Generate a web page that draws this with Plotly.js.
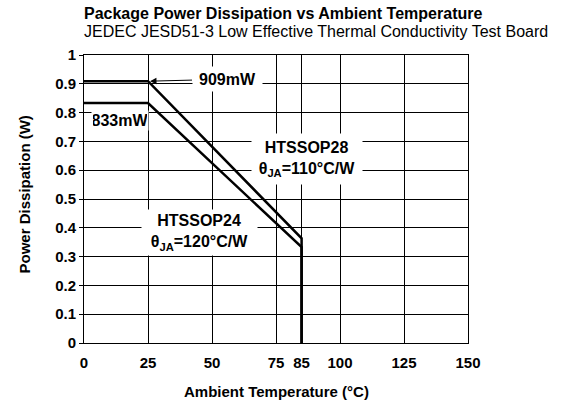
<!DOCTYPE html>
<html>
<head>
<meta charset="utf-8">
<script src="https://cdn.plot.ly/plotly-3.0.1.min.js"></script>
<style>html,body{margin:0;padding:0;background:#fff;}#chart{width:564px;height:403px;}</style>
</head>
<body>
<div id="chart"></div>
<script>
// Data
const temps28 = [0, 25, 85, 85];
const power28 = [0.909, 0.909, 0.3636, 0];
const temps24 = [0, 25, 85, 85];
const power24 = [0.833, 0.833, 0.333, 0];
const xTickVals = [0, 25, 50, 75, 85, 100, 125, 150];
const xTickText = ['0', '25', '50', '75', '85', '100', '125', '150'];
const yTickVals = [0, 0.1, 0.2, 0.3, 0.4, 0.5, 0.6, 0.7, 0.8, 0.9, 1];
const yTickText = ['0', '0.1', '0.2', '0.3', '0.4', '0.5', '0.6', '0.7', '0.8', '0.9', '1'];

const FONT = 'Liberation Sans, Arial, sans-serif';

const traces = [
  {x: temps28, y: power28, mode: 'lines', line: {color: '#000', width: 2.5}, name: 'HTSSOP28', hoverinfo: 'skip'},
  {x: temps24, y: power24, mode: 'lines', line: {color: '#000', width: 2.5}, name: 'HTSSOP24', hoverinfo: 'skip'}
];

const boldFont = {family: FONT, size: 16, color: '#000', weight: 'bold'};

const layout = {
  width: 564, height: 403,
  margin: {l: 84, r: 96, t: 55, b: 60, pad: 0},
  paper_bgcolor: '#fff', plot_bgcolor: '#fff',
  showlegend: false,
  font: {family: FONT, color: '#000'},
  xaxis: {
    range: [0, 150], tickvals: xTickVals, ticktext: xTickText,
    showgrid: true, gridcolor: '#000', gridwidth: 1,
    showline: true, linecolor: '#000', linewidth: 1, mirror: true,
    zeroline: false, ticks: '', ticklabelstandoff: 6,
    tickfont: {family: FONT, size: 15, color: '#000', weight: 'bold'},
    fixedrange: true
  },
  yaxis: {
    range: [0, 1], tickvals: yTickVals, ticktext: yTickText,
    showgrid: true, gridcolor: '#000', gridwidth: 1,
    showline: true, linecolor: '#000', linewidth: 1, mirror: true,
    zeroline: false, ticks: 'outside', ticklen: 4, tickcolor: '#000', ticklabelstandoff: 0,
    tickfont: {family: FONT, size: 15, color: '#000', weight: 'bold'},
    fixedrange: true
  },
  annotations: [
    {xref: 'paper', yref: 'paper', x: -0.005, y: 1.144, xanchor: 'left', yanchor: 'middle', showarrow: false,
     text: 'Package Power Dissipation vs Ambient Temperature', font: {family: FONT, size: 16, color: '#000', weight: 'bold'}},
    {xref: 'paper', yref: 'paper', x: -0.005, y: 1.081, xanchor: 'left', yanchor: 'middle', showarrow: false,
     text: 'JEDEC JESD51-3 Low Effective Thermal Conductivity Test Board', font: {family: FONT, size: 16, color: '#000'}},
    {xref: 'paper', yref: 'paper', x: 0.5, y: -0.168, xanchor: 'center', yanchor: 'middle', showarrow: false,
     text: 'Ambient Temperature (°C)', font: {family: FONT, size: 15, color: '#000', weight: 'bold'}},
    {xref: 'paper', yref: 'paper', x: -0.156, y: 0.516, xanchor: 'center', yanchor: 'middle', showarrow: false, textangle: -90,
     text: 'Power Dissipation (W)', font: {family: FONT, size: 15, color: '#000', weight: 'bold'}},
    {xref: 'x', yref: 'y', x: temps28[1], y: power28[1], ax: 79, ay: -2, axref: 'pixel', ayref: 'pixel',
     showarrow: true, arrowhead: 2, arrowsize: 1.3, arrowwidth: 1, arrowcolor: '#000', standoff: 2,
     text: '909mW', font: boldFont, bgcolor: '#fff', width: 63, height: 18, borderpad: 3},
    {xref: 'paper', yref: 'paper', x: 0.09375, y: 0.774, xanchor: 'center', yanchor: 'middle', showarrow: false,
     text: '833mW', font: boldFont, bgcolor: '#fff', width: 54, borderpad: 1},
    {xref: 'paper', yref: 'paper', x: 0.5807, y: 0.639, xanchor: 'center', yanchor: 'middle', showarrow: false,
     text: 'HTSSOP28<br>θ<sub>JA</sub>=110°C/W', font: boldFont, bgcolor: '#fff', width: 104, height: 44, borderpad: 3},
    {xref: 'paper', yref: 'paper', x: 0.302, y: 0.385, xanchor: 'center', yanchor: 'middle', showarrow: false,
     text: 'HTSSOP24<br>θ<sub>JA</sub>=120°C/W', font: boldFont, bgcolor: '#fff', width: 109, height: 39, borderpad: 3}
  ]
};

Plotly.newPlot('chart', traces, layout, {displayModeBar: false, staticPlot: true});
</script>
</body>
</html>
